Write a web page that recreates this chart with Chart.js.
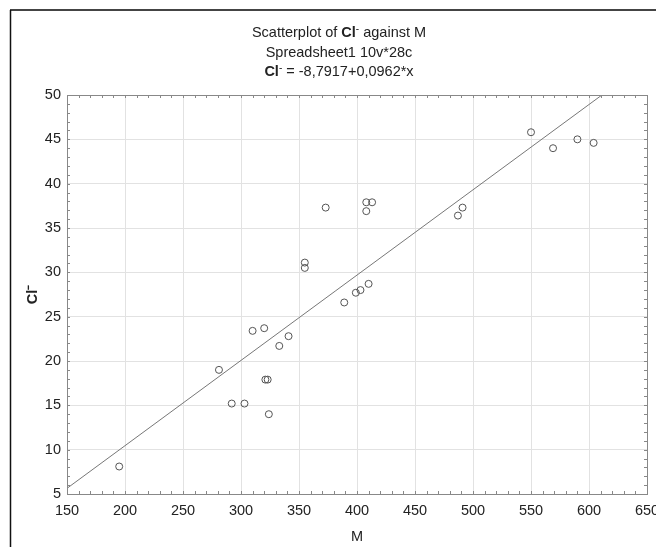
<!DOCTYPE html>
<html lang="en">
<head>
<meta charset="UTF-8">
<title>Scatterplot of Cl- against M</title>
<script src="https://cdn.jsdelivr.net/npm/chart.js"></script>
<style>
  body { margin: 0; background: #fff; }
</style>
</head>
<body>
<canvas id="grafico" width="656" height="547"></canvas>
<script>
// datos
const mValues  = [195, 281, 292, 303, 310, 320, 321, 323, 324, 333, 341, 355, 355, 373, 389, 399, 403, 408, 408, 410, 413, 487, 491, 550, 569, 590, 604];
const clValues = [8.1, 19.0, 15.2, 15.2, 23.4, 23.7, 17.9, 17.9, 14.0, 21.7, 22.8, 31.1, 30.5, 37.3, 26.6, 27.7, 28.0, 37.9, 36.9, 28.7, 37.9, 36.4, 37.3, 45.8, 44.0, 45.0, 44.6];
const intercept = -8.7917;
const slope = 0.0962;
const xRange = [150, 650];
const yRange = [5, 50];
const titleLines = [
  [{t: 'Scatterplot of '}, {t: 'Cl', b: true}, {t: '-', sup: true}, {t: ' against M'}],
  [{t: 'Spreadsheet1 10v*28c'}],
  [{t: 'Cl', b: true}, {t: '-', sup: true}, {t: ' = -8,7917+0,0962*x'}]
];

const puntos = mValues.map((m, i) => ({x: m, y: clValues[i]}));
const recta = xRange.map(x => ({x: x, y: intercept + slope * x}));

// marco exterior, borde del area y marcas menores
const marcoPlugin = {
  id: 'marco',
  beforeDraw(chart) {
    const ctx = chart.ctx;
    ctx.save();
    ctx.fillStyle = '#fff';
    ctx.fillRect(0, 0, chart.width, chart.height);
    ctx.strokeStyle = '#444';
    ctx.lineWidth = 2;
    ctx.beginPath();
    ctx.moveTo(10, 10); ctx.lineTo(chart.width, 10);
    ctx.stroke();
    ctx.strokeStyle = '#111';
    ctx.lineWidth = 1.5;
    ctx.beginPath();
    ctx.moveTo(10.5, 10); ctx.lineTo(10.5, chart.height);
    ctx.stroke();
    ctx.restore();
  },
  afterDraw(chart) {
    const ctx = chart.ctx;
    const a = chart.chartArea;
    const sx = chart.scales.x, sy = chart.scales.y;
    ctx.save();
    ctx.strokeStyle = '#888';
    ctx.lineWidth = 1;
    ctx.strokeRect(a.left + 0.5, a.top + 0.5, a.right - a.left, a.bottom - a.top);
    ctx.beginPath();
    for (let v = xRange[0]; v <= xRange[1]; v += 10) {
      const px = Math.round(sx.getPixelForValue(v)) + 0.5;
      ctx.moveTo(px, a.bottom); ctx.lineTo(px, a.bottom - 3);
      ctx.moveTo(px, a.top); ctx.lineTo(px, a.top + 3);
    }
    for (let v = yRange[0]; v <= yRange[1]; v += 1) {
      const py = Math.round(sy.getPixelForValue(v)) + 0.5;
      ctx.moveTo(a.left, py); ctx.lineTo(a.left + 3, py);
      ctx.moveTo(a.right, py); ctx.lineTo(a.right - 3, py);
    }
    ctx.stroke();

    // titulo con partes en negrita
    const cx = 339;
    const ys = [33, 53, 72];
    ctx.fillStyle = '#222';
    ctx.textBaseline = 'middle';
    titleLines.forEach((line, i) => {
      const fontOf = s => (s.b ? 'bold ' : '') + (s.sup ? '10px' : '14.5px') + ' "Liberation Sans", Arial, sans-serif';
      let total = 0;
      line.forEach(s => { ctx.font = fontOf(s); total += ctx.measureText(s.t).width; });
      let x = cx - total / 2;
      line.forEach(s => {
        ctx.font = fontOf(s);
        ctx.fillText(s.t, x, ys[i] - (s.sup ? 4 : 0));
        x += ctx.measureText(s.t).width;
      });
    });
    ctx.restore();
  }
};

const tickFont = {family: '"Liberation Sans", Arial, sans-serif', size: 14.5};

new Chart(document.getElementById('grafico').getContext('2d'), {
  type: 'scatter',
  data: {
    datasets: [
      {
        label: 'Cl-',
        data: puntos,
        pointStyle: 'circle',
        pointRadius: 3.5,
        pointBorderWidth: 1,
        pointBackgroundColor: 'rgba(255,255,255,0)',
        pointBorderColor: '#555',
        showLine: false
      },
      {
        type: 'line',
        label: 'ajuste',
        data: recta,
        borderColor: '#777',
        borderWidth: 1,
        pointRadius: 0,
        fill: false
      }
    ]
  },
  plugins: [marcoPlugin],
  options: {
    responsive: false,
    animation: false,
    layout: {padding: {top: 95, right: 9, left: 0, bottom: 0}},
    plugins: {
      legend: {display: false},
      title: {display: false},
      tooltip: {enabled: false}
    },
    scales: {
      x: {
        type: 'linear',
        min: xRange[0],
        max: xRange[1],
        afterFit: s => { s.height = 53; s.paddingLeft = 0; s.paddingRight = 0; },
        ticks: {stepSize: 50, color: '#222', font: tickFont, padding: 8, maxRotation: 0},
        grid: {color: '#e2e2e2', drawTicks: false},
        border: {display: false},
        title: {display: true, text: 'M', color: '#222', font: tickFont, padding: {top: 0, bottom: 1}}
      },
      y: {
        type: 'linear',
        min: yRange[0],
        max: yRange[1],
        afterFit: s => { s.width = 67; s.paddingTop = 0; s.paddingBottom = 0; },
        ticks: {stepSize: 5, color: '#222', font: tickFont, padding: 6},
        grid: {color: '#e2e2e2', drawTicks: false},
        border: {display: false},
        title: {display: true, text: 'Cl⁻', color: '#222', font: {family: '"Liberation Sans", Arial, sans-serif', size: 14.5, weight: 'bold'}, padding: {top: 24, bottom: 0}}
      }
    }
  }
});
</script>
</body>
</html>
